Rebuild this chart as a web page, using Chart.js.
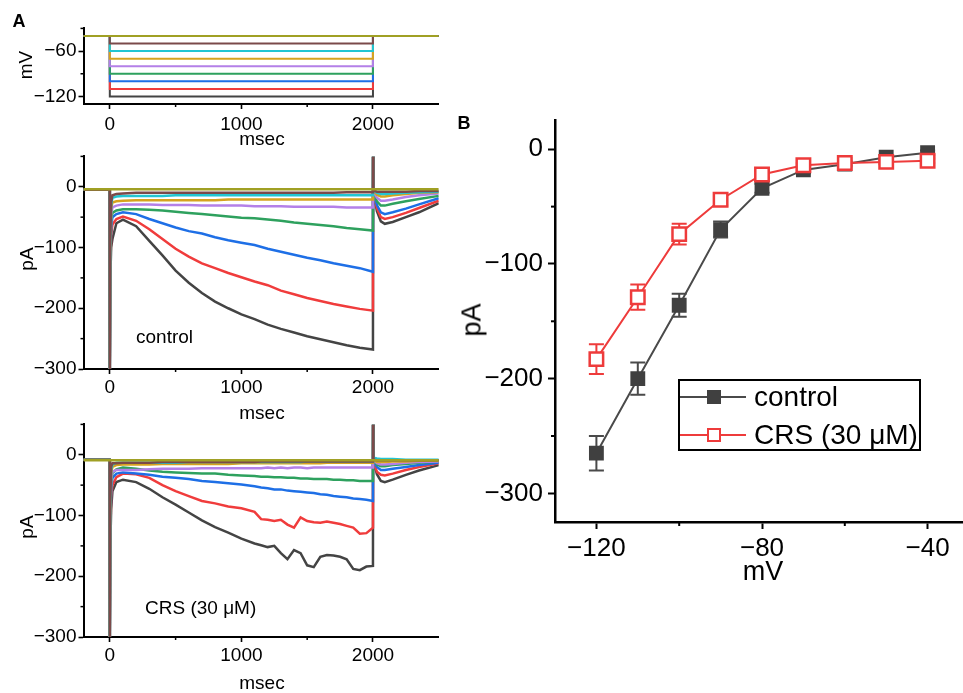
<!DOCTYPE html>
<html>
<head>
<meta charset="utf-8">
<script src="https://cdn.jsdelivr.net/npm/chart.js@4.4.1/dist/chart.umd.min.js"></script>
<style>
  body { margin: 0; width: 963px; height: 693px; overflow: hidden; background: #fff; position: relative;
         font-family: "Liberation Sans", Arial, sans-serif; color: #000; }
  canvas { position: absolute; }
  .t { position: absolute; white-space: nowrap; line-height: 1; transform: translate(-50%, -50%); }
  .l { position: absolute; white-space: nowrap; line-height: 1; transform: translateY(-50%); }
  .r { transform: translate(-50%, -50%) rotate(-90deg); }
  .a { font-size: 19px; }
  .b { font-size: 27px; }
  .tag { font-weight: bold; font-size: 18px; }
  #legend { position: absolute; left: 678px; top: 379px; width: 239px; height: 68px; border: 2px solid #000; }
  .row { position: absolute; left: 0; height: 20px; width: 100%; }
  .row .ln { position: absolute; left: 0; top: 9px; width: 66px; height: 2px; }
  .row .mk { position: absolute; left: 27px; top: 3px; width: 14px; height: 14px; box-sizing: border-box; }
  .row .tx { position: absolute; left: 74px; top: 10px; font-size: 28px; line-height: 1; transform: translateY(-50%); white-space: nowrap; }
</style>
</head>
<body>
<canvas id="volt" width="450" height="124" style="left:0;top:15px"></canvas>
<canvas id="ctrl" width="450" height="262" style="left:0;top:143px"></canvas>
<canvas id="crs" width="450" height="262" style="left:0;top:411px"></canvas>
<canvas id="iv" width="526" height="470" style="left:455px;top:100px"></canvas>

<div class="t tag" style="left:19px;top:21px">A</div>
<div class="t a r" style="left:25px;top:65px">mV</div>
<div class="t a" style="left:262px;top:138px">msec</div>
<div class="t a r" style="left:26px;top:259px">pA</div>
<div class="t a" style="left:262px;top:412px">msec</div>
<div class="l a" style="left:136px;top:336px">control</div>
<div class="t a r" style="left:26px;top:527px">pA</div>
<div class="t a" style="left:262px;top:682px">msec</div>
<div class="l a" style="left:145px;top:607px">CRS (30 μM)</div>

<div class="t tag" style="left:464px;top:123px">B</div>
<div class="t b r" style="left:472px;top:320px">pA</div>
<div class="t b" style="left:763px;top:571px">mV</div>
<div id="legend">
  <div class="row" style="top:6px">
    <div class="ln" style="background:#4a4a4a"></div>
    <div class="mk" style="background:#404040"></div>
    <div class="tx">control</div>
  </div>
  <div class="row" style="top:44px">
    <div class="ln" style="background:#ee3b3b"></div>
    <div class="mk" style="background:#fff;border:2.5px solid #ee3b3b"></div>
    <div class="tx">CRS (30 μM)</div>
  </div>
</div>

<script>
// step protocol: holding at -40 mV, 2 s steps from -120 to -40 mV
const stepLevels = [-120, -110, -100, -90, -80, -70, -60, -50, -40];
const holding = -40;
const protocolTime = [-200, 0, 0, 2000, 2000, 2500];

// control current traces (pA), one per step level
const ctrlTime = [-200, -2, 0, 3, 10, 20, 50, 100, 200, 300, 400, 500, 600, 700, 800, 900, 1000,
  1100, 1200, 1300, 1400, 1500, 1600, 1700, 1800, 1900, 2000, 2001, 2004, 2030, 2060, 2090, 2150, 2250, 2350, 2500];
const ctrl120 = [-5, -5, -300, -160, -100, -86, -60, -54, -65, -89, -113, -138, -158, -175, -189, -200, -210,
  -218, -227, -234, -240, -246, -251, -256, -261, -265, -268, 50, -8, -40, -57, -61, -58, -50, -42, -27];
const ctrl110 = [-5, -5, -300, -150, -80, -62, -53, -49, -56, -70, -86, -102, -115, -126, -134, -142, -149,
  -156, -162, -171, -177, -183, -188, -193, -197, -201, -204, 50, -8, -35, -50, -53, -50, -43, -35, -23];
const ctrl100 = [-5, -5, -300, -140, -65, -50, -45, -42, -45, -53, -60, -67, -73, -77, -83, -88, -92,
  -96, -102, -107, -112, -117, -121, -126, -130, -134, -140, 50, -8, -30, -42, -45, -42, -36, -29, -19];
const ctrl90 = [-5, -5, -300, -130, -55, -43, -39, -37, -37, -38, -39, -41, -43, -45, -47, -49, -51,
  -52, -54, -56, -59, -61, -63, -65, -68, -70, -72, 50, -8, -24, -31, -31, -28, -24, -20, -15];
const ctrl80 = [-5, -5, -300, -120, -45, -34, -31, -29, -29, -29, -30, -30, -30, -31, -31, -31, -31,
  -32, -32, -32, -33, -33, -33, -33, -34, -34, -34, 50, -7, -18, -23, -23, -21, -17, -14, -11];
const ctrl70 = [-5, -5, -300, -110, -35, -26, -24, -23, -22, -22, -22, -22, -22, -22, -22, -21, -21,
  -21, -21, -21, -21, -21, -21, -21, -21, -21, -21, 50, -6, -13, -16, -16, -14, -12, -10, -9];
const ctrl60 = [-5, -5, -300, -100, -30, -18, -16, -15, -15, -15, -15, -14, -14, -14, -14, -14, -14,
  -14, -14, -14, -14, -14, -14, -14, -14, -14, -14, 50, -6, -10, -12, -12, -11, -10, -9, -8];
const ctrl50 = [-5, -5, -300, -90, -25, -14, -12, -11, -10, -10, -10, -10, -10, -10, -10, -10, -10,
  -10, -10, -10, -10, -10, -10, -10, -9, -9, -9, 50, -6, -8, -8, -8, -8, -8, -7, -7];
const ctrl40 = [-4, -4, -4, -4, -4, -4, -4, -4, -4, -4, -4, -4, -4, -4, -4, -4, -4,
  -4, -4, -4, -4, -4, -4, -4, -4, -4, -4, -4, -4, -4, -4, -4, -4, -4, -4, -4];

// CRS (30 uM) current traces (pA)
const crsTime = [-200, -2, 0, 3, 10, 20, 50, 100, 200, 300, 400, 500, 600, 700, 800, 900, 1000, 1100,
  1150, 1200, 1250, 1300, 1350, 1400, 1450, 1500, 1550, 1600, 1650, 1700, 1750, 1800, 1850, 1900, 1950, 2000,
  2001, 2004, 2030, 2060, 2090, 2150, 2250, 2350, 2500];
const crs120 = [-8, -8, -300, -160, -90, -60, -45, -41, -45, -56, -70, -82, -95, -108, -119, -128, -138, -146,
  -149, -152, -150, -162, -172, -157, -162, -182, -185, -168, -165, -166, -168, -172, -188, -190, -184, -183,
  50, -10, -32, -43, -45, -41, -33, -26, -17];
const crs110 = [-8, -8, -300, -150, -70, -50, -37, -31, -32, -38, -50, -60, -68, -76, -80, -85, -88, -94,
  -106, -107, -109, -107, -115, -120, -103, -109, -111, -112, -110, -112, -114, -117, -120, -130, -129, -120,
  50, -10, -28, -33, -34, -31, -25, -20, -14];
const crs100 = [-8, -8, -300, -140, -55, -38, -31, -29, -31, -33, -36, -38, -40, -43, -45, -47, -49, -52,
  -54, -55, -57, -57, -59, -60, -61, -62, -63, -65, -66, -68, -69, -70, -72, -73, -74, -76,
  50, -8, -20, -25, -25, -23, -20, -17, -13];
const crs90 = [-8, -8, -300, -130, -45, -30, -24, -21, -23, -26, -28, -29, -30, -31, -31, -33, -34, -35,
  -36, -36, -37, -37, -38, -38, -39, -39, -40, -40, -40, -41, -41, -42, -42, -43, -43, -43,
  50, -8, -16, -19, -19, -17, -15, -13, -11];
const crs80 = [-8, -8, -300, -120, -40, -28, -25, -25, -25, -24, -23, -23, -23, -22, -22, -22, -22, -22,
  -22, -21, -22, -21, -22, -21, -21, -22, -21, -21, -21, -21, -21, -21, -21, -21, -21, -21,
  50, -8, -14, -16, -16, -15, -13, -12, -11];
const crs70 = [-8, -8, -300, -100, -30, -20, -17, -16, -16, -16, -15, -15, -15, -15, -15, -15, -14, -14,
  -14, -14, -14, -14, -14, -14, -14, -14, -14, -14, -13, -13, -13, -13, -13, -13, -13, -13,
  50, -8, -12, -12, -12, -11, -11, -10, -10];
const crs60 = [-8, -8, -300, -90, -25, -16, -13, -13, -13, -13, -13, -13, -12, -12, -12, -12, -12, -12,
  -12, -12, -12, -12, -12, -12, -12, -11, -11, -11, -11, -11, -11, -11, -11, -11, -11, -11,
  50, -5, -6, -7, -7, -7, -8, -8, -8];
const crs50 = [-8, -8, -300, -80, -20, -14, -14, -13, -13, -13, -12, -12, -12, -12, -12, -12, -12, -12,
  -11, -11, -11, -11, -11, -11, -11, -11, -11, -11, -11, -11, -11, -11, -11, -11, -11, -11,
  50, -8, -9, -9, -9, -9, -9, -9, -9];
const crs40 = [-9, -9, -9, -9, -9, -9, -9, -9, -9, -9, -9, -9, -9, -9, -9, -9, -9, -9,
  -9, -9, -9, -9, -9, -9, -9, -9, -9, -9, -9, -9, -9, -9, -9, -9, -9, -9,
  -9, -9, -9, -9, -9, -9, -9, -9, -9];

// I-V relation: mean +/- SEM
const ivVoltage = [-120, -110, -100, -90, -80, -70, -60, -50, -40];
const ivControl = [-265, -200, -136, -70, -34, -18, -13, -7, -3];
const ivControlErr = [15, 14, 10, 7, 4, 3, 2, 2, 2];
const ivCrs = [-183, -129, -74, -44, -22, -14, -12, -11, -10];
const ivCrsErr = [13, 11, 9, 5, 3, 2, 2, 2, 2];

// tick values
const timeTicks = [0, 1000, 2000];
const timeMinor = [500, 1500];
const mvTicks = [-120, -60];
const mvMinor = [-90, -30];
const paTicks = [-300, -200, -100, 0];
const paMinor = [-250, -150, -50, 50];
const ivXTicks = [-120, -80, -40];
const ivXMinor = [-100, -60];
const ivYTicks = [-300, -200, -100, 0];
const ivYMinor = [-250, -150, -50];

const traceColors = ['#444444', '#f03c3c', '#1e6fe6', '#2ea15e', '#b480e8', '#d6a31e', '#22c5d2', '#7b4a4a', '#a0a024'];
const FONT = 'Liberation Sans';

// origin-style minus sign on tick labels
const fmt = v => String(v).replace('-', '\u2212');

// short unlabeled ticks between the major ones
const minorTicks = {
  id: 'minorTicks',
  afterDraw(chart, args, opts) {
    const ctx = chart.ctx, xs = chart.scales.x, ys = chart.scales.y;
    ctx.save();
    ctx.strokeStyle = '#000';
    ctx.lineWidth = opts.width;
    (opts.x || []).forEach(v => {
      const px = xs.getPixelForValue(v);
      ctx.beginPath(); ctx.moveTo(px, xs.top); ctx.lineTo(px, xs.top + opts.length); ctx.stroke();
    });
    (opts.y || []).forEach(v => {
      const py = ys.getPixelForValue(v);
      ctx.beginPath(); ctx.moveTo(ys.right, py); ctx.lineTo(ys.right - opts.length, py); ctx.stroke();
    });
    ctx.restore();
  }
};

// vertical SEM bars with caps, drawn under the markers
const errorBars = {
  id: 'errorBars',
  beforeDatasetsDraw(chart) {
    const ctx = chart.ctx, xs = chart.scales.x, ys = chart.scales.y;
    chart.data.datasets.forEach(ds => {
      if (!ds.errors) return;
      ctx.save();
      ctx.strokeStyle = ds.borderColor;
      ctx.lineWidth = 2;
      ds.data.forEach((p, i) => {
        const px = xs.getPixelForValue(p.x);
        const hi = ys.getPixelForValue(p.y + ds.errors[i]);
        const lo = ys.getPixelForValue(p.y - ds.errors[i]);
        ctx.beginPath();
        ctx.moveTo(px, hi); ctx.lineTo(px, lo);
        ctx.moveTo(px - 7.5, hi); ctx.lineTo(px + 7.5, hi);
        ctx.moveTo(px - 7.5, lo); ctx.lineTo(px + 7.5, lo);
        ctx.stroke();
      });
      ctx.restore();
    });
  }
};

function axis(min, max, major, labelled, opt) {
  return {
    type: 'linear', min: min, max: max,
    afterBuildTicks: a => { a.ticks = major.map(v => ({ value: v })); },
    afterFit: s => { if (opt.width) s.width = opt.width; if (opt.height) s.height = opt.height; },
    border: { display: true, color: '#000', width: opt.border },
    grid: { drawOnChartArea: false, drawTicks: true, tickLength: opt.tick, tickColor: '#000', tickWidth: opt.border * 0.8 },
    ticks: {
      color: '#000', padding: opt.pad, autoSkip: false, maxRotation: 0,
      font: { family: FONT, size: opt.font },
      callback: v => labelled.includes(v) ? fmt(v) : ''
    }
  };
}

function tracePanel(id, times, traces, lineWidth, yMin, yMax, yMajor, yMinor, xPad, xHeight) {
  const datasets = traces.map((ys, k) => ({
    data: times.map((t, i) => ({ x: t, y: ys[i] })),
    borderColor: traceColors[k],
    borderWidth: lineWidth,
    pointRadius: 0,
    tension: 0
  }));
  new Chart(document.getElementById(id), {
    type: 'line',
    data: { datasets: datasets.reverse() },
    options: {
      responsive: false, animation: false, events: [],
      layout: { padding: { left: 0, top: 10, right: 11.25, bottom: 0 } },
      plugins: { legend: { display: false }, tooltip: { enabled: false },
                 minorTicks: { x: timeMinor, y: yMinor, length: 3, width: 1.5 } },
      scales: {
        x: axis(-200, 2500, [0, 1000, 2000], timeTicks, { height: xHeight, border: 2, tick: 5, pad: xPad, font: 19 }),
        y: axis(yMin, yMax, yMajor, yMajor, { width: 83.5, border: 2, tick: 5, pad: 2, font: 19 })
      }
    },
    plugins: [minorTicks]
  });
}

// voltage protocol
tracePanel('volt', protocolTime,
  stepLevels.map(v => [holding, holding, v, v, holding, holding]), 2,
  -130, -30, mvTicks, mvMinor, 4, 35);

tracePanel('ctrl', ctrlTime,
  [ctrl120, ctrl110, ctrl100, ctrl90, ctrl80, ctrl70, ctrl60, ctrl50, ctrl40], 2.5,
  -300, 50, paTicks, paMinor, 2, 36);

tracePanel('crs', crsTime,
  [crs120, crs110, crs100, crs90, crs80, crs70, crs60, crs50, crs40], 2.5,
  -300, 50, paTicks, paMinor, 2, 36);

// I-V curve
new Chart(document.getElementById('iv'), {
  type: 'line',
  data: {
    datasets: [
      {
        label: 'CRS (30 μM)', order: 0,
        data: ivVoltage.map((v, i) => ({ x: v, y: ivCrs[i] })),
        errors: ivCrsErr,
        borderColor: '#ee3b3b', borderWidth: 2,
        pointStyle: 'rect', pointRadius: 9.5, pointBorderWidth: 2.5,
        pointBackgroundColor: '#fff', pointBorderColor: '#ee3b3b', tension: 0
      },
      {
        label: 'control', order: 1,
        data: ivVoltage.map((v, i) => ({ x: v, y: ivControl[i] })),
        errors: ivControlErr,
        borderColor: '#4a4a4a', borderWidth: 2,
        pointStyle: 'rect', pointRadius: 10.5, pointBorderWidth: 0,
        pointBackgroundColor: '#404040', pointBorderColor: '#404040', tension: 0
      }
    ]
  },
  options: {
    responsive: false, animation: false, events: [],
    layout: { padding: { left: 0, top: 20, right: 4.5, bottom: 0 } },
    plugins: { legend: { display: false }, tooltip: { enabled: false },
               minorTicks: { x: ivXMinor, y: ivYMinor, length: 4, width: 2 } },
    scales: {
      x: axis(-130, -30, [-120, -80, -40], ivXTicks, { height: 48, border: 2.5, tick: 7, pad: 4, font: 26 }),
      y: axis(-325, 25, [-300, -200, -100, 0], ivYTicks, { width: 100, border: 2.5, tick: 7, pad: 5, font: 26 })
    }
  },
  plugins: [errorBars, minorTicks]
});
</script>
</body>
</html>
